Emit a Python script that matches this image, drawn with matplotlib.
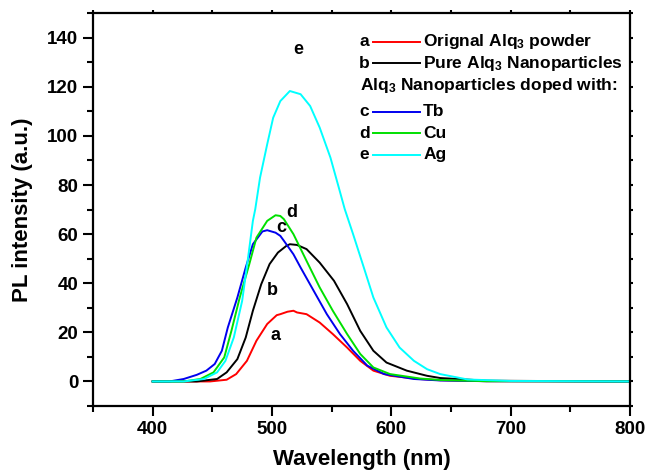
import matplotlib
matplotlib.use('Agg')
import matplotlib.pyplot as plt
from matplotlib.ticker import MultipleLocator

plt.rcParams['font.family'] = ['Liberation Sans', 'DejaVu Sans']
plt.rcParams['font.weight'] = 'bold'
plt.rcParams['mathtext.fontset'] = 'custom'
plt.rcParams['mathtext.rm'] = 'Liberation Sans:bold'
plt.rcParams['mathtext.it'] = 'Liberation Sans:bold'
plt.rcParams['mathtext.bf'] = 'Liberation Sans:bold'

# PL spectra (wavelength in nm, intensity in a.u.)
wl_a = [400, 430, 448, 462, 470, 479, 487, 496, 504, 507, 513, 518, 521, 529, 540, 551, 563, 574, 585, 599, 624, 641, 680, 800]
pl_a = [0, 0, 0, 0.7, 3.0, 8.4, 16.6, 23.4, 27.0, 27.4, 28.4, 28.8, 28.1, 27.4, 24.0, 19.3, 13.8, 8.4, 4.4, 2.3, 1.0, 0.5, 0.1, 0]

wl_b = [400, 430, 437, 454, 462, 471, 478, 484, 491, 498, 505, 512, 515, 521, 529, 540, 552, 563, 574, 585, 596, 613, 630, 641, 680, 800]
pl_b = [0, 0, 0, 1.0, 3.7, 9.1, 17.9, 28.8, 39.6, 47.8, 52.5, 55.2, 55.9, 55.6, 53.9, 48.4, 41.0, 31.5, 20.6, 12.5, 7.7, 4.4, 2.3, 1.4, 0.3, 0]

wl_c = [400, 414, 426, 437, 445, 452, 458, 463, 471, 478, 484, 492, 496, 503, 507, 510, 518, 524, 535, 546, 557, 568, 580, 594, 619, 641, 680, 800]
pl_c = [0, 0, 1.0, 2.7, 4.4, 7.1, 12.5, 22.0, 34.2, 46.4, 55.9, 61.1, 61.6, 60.6, 59.3, 57.3, 51.8, 46.4, 36.9, 27.4, 19.3, 12.5, 6.4, 3.0, 1.0, 0.4, 0.1, 0]

wl_d = [400, 426, 440, 451, 460, 466, 473, 481, 487, 496, 503, 507, 510, 518, 529, 540, 551, 563, 574, 585, 599, 624, 641, 680, 800]
pl_d = [0, 0, 1.0, 3.7, 9.8, 20.6, 34.2, 47.8, 58.6, 65.4, 67.7, 67.4, 66.1, 60.0, 49.1, 38.3, 28.8, 19.3, 11.2, 5.7, 3.0, 1.2, 0.6, 0.1, 0]

wl_e = [400, 426, 443, 454, 461, 468, 475, 480, 484, 486, 490, 496, 501, 507, 515, 524, 532, 540, 549, 556, 561, 568, 577, 585, 596, 607, 619, 630, 641, 664, 700, 800]
pl_e = [0, 0, 1.0, 3.7, 8.4, 17.9, 32.8, 50.5, 65.4, 70.2, 83.0, 96.6, 107.4, 114.2, 118.3, 117.0, 112.2, 103.4, 91.2, 79.0, 70.2, 60.0, 46.4, 34.2, 22.0, 13.8, 8.4, 5.0, 3.0, 0.8, 0.2, 0]

series = [
    ('a', wl_a, pl_a, 'red', 'Orignal Alq$_3$ powder'),
    ('b', wl_b, pl_b, 'black', 'Pure Alq$_3$ Nanoparticles'),
    ('c', wl_c, pl_c, '#0000ee', 'Tb'),
    ('d', wl_d, pl_d, '#00e000', 'Cu'),
    ('e', wl_e, pl_e, '#00ffff', 'Ag'),
]

# curve letter positions (wavelength, intensity)
tag_pos = {'a': (502.6, 18.6), 'b': (500.6, 36.9), 'c': (508.2, 62.7),
           'd': (516.5, 68.8), 'e': (521.8, 135.4)}

fig = plt.figure(figsize=(6.46, 4.71), dpi=100)
ax = fig.add_axes([0.144, 0.138, 0.831, 0.834])

for tag, wl, pl, color, label in series:
    ax.plot(wl, pl, color=color, lw=1.4)
    tx, ty = tag_pos[tag]
    ax.text(tx, ty, tag, ha='center', va='center', fontsize=13, fontweight='bold')

# hand-made legend in the upper right
rows = [0.927, 0.872, 0.749, 0.694, 0.639]
for (tag, wl, pl, color, label), yy in zip(series, rows):
    ax.text(0.506, yy, tag, transform=ax.transAxes, ha='center', va='center',
            fontsize=12.5, fontweight='bold')
    ax.plot([0.521, 0.609], [yy, yy], transform=ax.transAxes, color=color, lw=1.4)
    ax.text(0.615, yy, label, transform=ax.transAxes, ha='left', va='center',
            fontsize=12.5, fontweight='bold')
ax.text(0.498, 0.817, 'Alq$_3$ Nanoparticles doped with:', transform=ax.transAxes,
        ha='left', va='center', fontsize=12.5, fontweight='bold')

ax.set_xlim(350, 800)
ax.set_ylim(-10, 150)
ax.set_xticks([400, 500, 600, 700, 800])
ax.set_yticks([0, 20, 40, 60, 80, 100, 120, 140])
ax.xaxis.set_minor_locator(MultipleLocator(50))
ax.yaxis.set_minor_locator(MultipleLocator(10))
ax.tick_params(which='major', direction='out', length=7, width=1.5, labelsize=13.5)
ax.tick_params(which='minor', direction='out', length=4, width=1.5)
ax.tick_params(which='both', top=True, right=True)
for spine in ax.spines.values():
    spine.set_linewidth(1.6)
for lab in ax.get_xticklabels() + ax.get_yticklabels():
    lab.set_fontweight('bold')
# small ticks on top and right
for t in ax.xaxis.get_major_ticks() + ax.xaxis.get_minor_ticks():
    t.tick2line.set_markersize(2)
for t in ax.yaxis.get_major_ticks() + ax.yaxis.get_minor_ticks():
    t.tick2line.set_markersize(2)

ax.set_xlabel('Wavelength (nm)', fontsize=16, fontweight='bold', labelpad=8)
ax.set_ylabel('PL intensity (a.u.)', fontsize=16, fontweight='bold', labelpad=10)

fig.savefig('out.png', dpi=100)
